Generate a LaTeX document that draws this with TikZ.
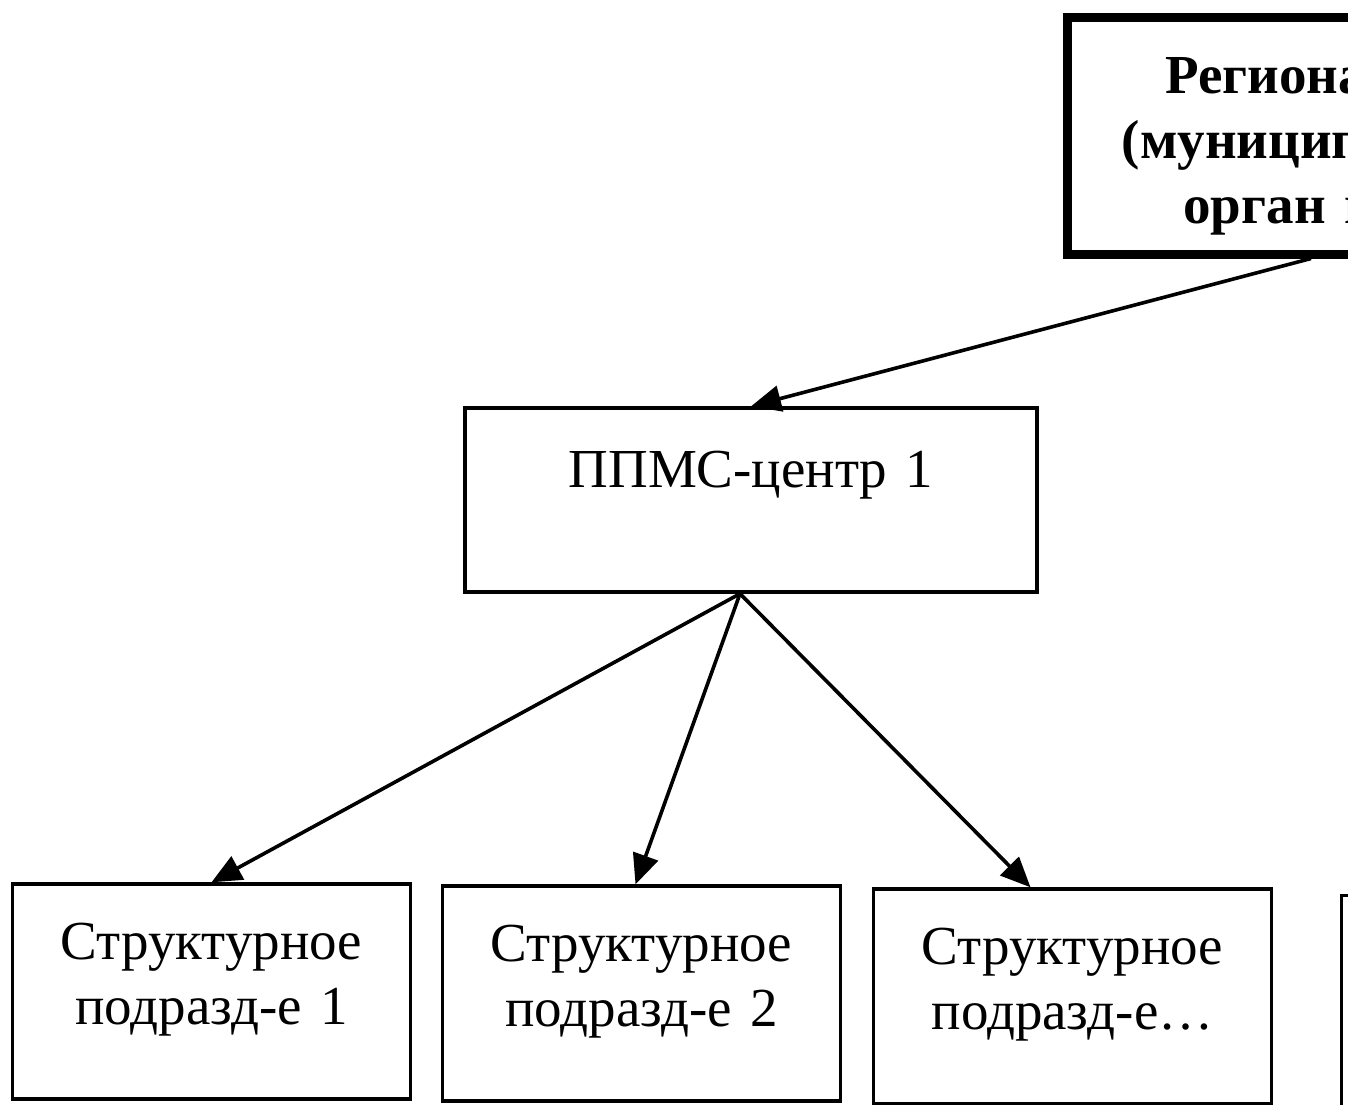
\documentclass[tikz,border=0pt]{standalone}
\usepackage{fontspec}
\setmainfont{Liberation Serif}
\usetikzlibrary{arrows.meta}
\tikzset{
  ramka/.style={draw, line width=1.7pt, inner sep=0pt, align=center,
    font=\fontsize{27.5}{32.5}\selectfont},
  podr/.style={ramka, text width=199pt, text height=37.5pt, text depth=70pt},
  strelka/.style={line width=1.8pt, -{Triangle[length=15pt,width=13pt]}}
}
\begin{document}
\begin{tikzpicture}[x=1pt, y=-1pt]
\useasboundingbox (0,0) rectangle (674,552);
\clip (0,0) rectangle (674,552);

% Региональный орган (обрезан справа)
\node[ramka, line width=4.5pt, font=\fontsize{27.5}{32.5}\selectfont\bfseries,
  text width=282pt, text height=38pt, text depth=80.5pt, anchor=base] (region) at (674.5,46.5)
  {Региональный\\(муниципальный)\\орган власти};

% ППМС-центр
\node[ramka, text width=286pt, text height=39.5pt, text depth=52.5pt, anchor=base] (ppms) at (375.5,243.5) {ППМС-центр 1};

% Структурные подразделения
\node[podr, anchor=base] (podr1) at (105.75,479.5) {Структурное\\подразд-е 1};
\node[podr, anchor=base] (podr2) at (320.75,480.5) {Структурное\\подразд-е 2};
\node[podr, anchor=base] (podr3) at (536.25,482) {Структурное\\подразд-е…};
\node[podr, anchor=north west] (podr4) at (670,447) {};

% Стрелки
\draw[strelka] ([xshift=-19pt]region.south) -- (ppms.north);
\draw[strelka] ([xshift=-5.5pt]ppms.south) -- (podr1.north);
\draw[strelka] ([xshift=-5.5pt]ppms.south) -- ([xshift=-3pt]podr2.north);
\draw[strelka] ([xshift=-5.5pt]ppms.south) -- ([xshift=-21pt]podr3.north);
\end{tikzpicture}
\end{document}
